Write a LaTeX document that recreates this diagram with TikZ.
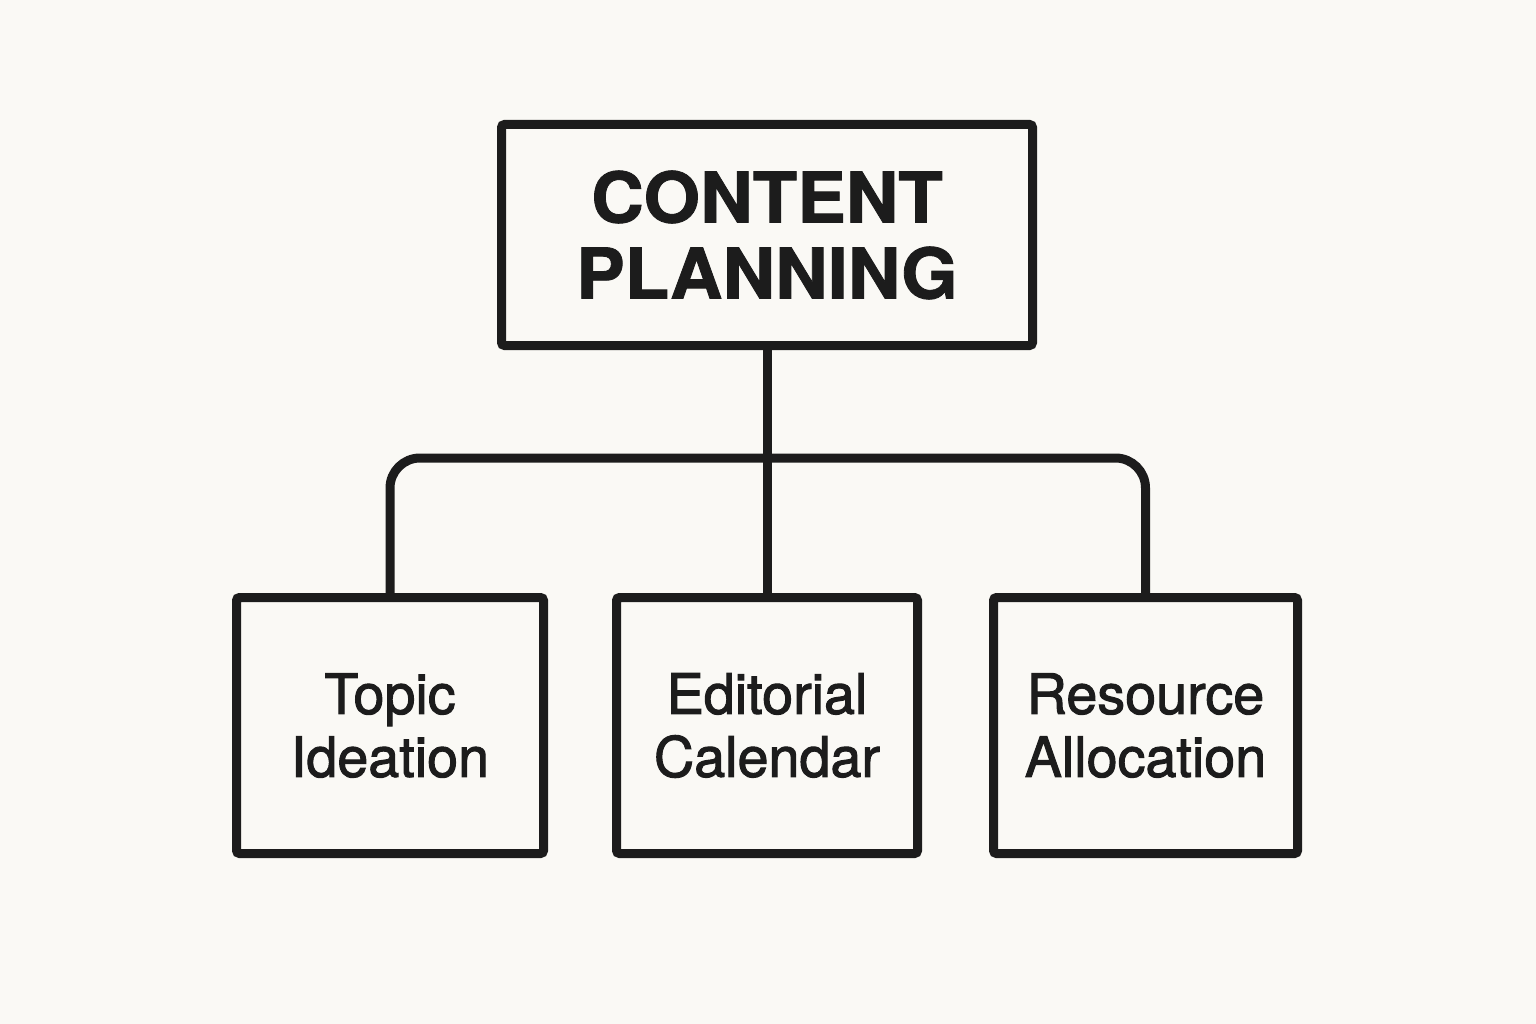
\documentclass[tikz,border=0pt]{standalone}
\usepackage{fontspec}
\setmainfont{TeX Gyre Heros}
\newfontfamily\medfont[FakeBold=1.8]{TeX Gyre Heros}
\newfontfamily\titlefont[BoldFeatures={FakeStretch=1.04,FakeBold=1.2}]{TeX Gyre Heros}
\definecolor{bgc}{RGB}{250,249,245}
\definecolor{ink}{RGB}{28,28,28}
\begin{document}
\begin{tikzpicture}[x=1pt,y=-1pt,
  box/.style={draw=ink, line width=9pt, rounded corners=3pt, rectangle, inner sep=0pt, outer sep=0pt, align=center, text=ink},
  titlebox/.style={box, minimum width=531pt, minimum height=221pt, font=\titlefont\bfseries\fontsize{70}{76}\selectfont},
  leafbox/.style={box, minimum height=256pt, font=\medfont\fontsize{55.7}{63}\selectfont},
  link/.style={draw=ink, line width=9pt}]
\fill[bgc] (0,0) rectangle (1536,1024);
\useasboundingbox (0,0) rectangle (1536,1024);
\node[titlebox] (top) at (767,235) {CONTENT\\PLANNING};
\node[leafbox, minimum width=307pt] (topic) at (390,725.5) {Topic\\Ideation};
\node[leafbox, minimum width=301pt] (cal) at (767,725.5) {Editorial\\Calendar};
\node[leafbox, minimum width=304pt] (res) at (1145.5,725.5) {Resource\\Allocation};
\coordinate (bar) at (767,458);
\draw[link] (top.south) -- (cal.north);
\draw[link, rounded corners=30pt] (topic.north) -- (topic.north |- bar) -- (res.north |- bar) -- (res.north);
\end{tikzpicture}
\end{document}
